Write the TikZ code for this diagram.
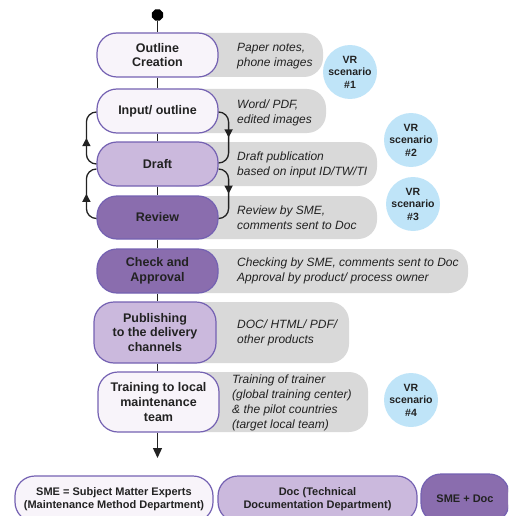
\documentclass[tikz,border=0pt]{standalone}
\usepackage{fontspec}
\setmainfont{Liberation Sans}
\usetikzlibrary{shapes.geometric,arrows.meta,decorations.markings}

\definecolor{boxlight}{HTML}{F8F4FA}
\definecolor{boxmid}{HTML}{CBB9DD}
\definecolor{boxdark}{HTML}{8A6DAE}
\definecolor{boxline}{HTML}{7461B2}
\definecolor{tabgray}{HTML}{D9D9D9}
\definecolor{vrblue}{HTML}{BFE4F8}
\definecolor{ink}{HTML}{222222}

\begin{document}
\begin{tikzpicture}[x=1pt,y=-1pt,
  stage/.style={draw=boxline, line width=1.2pt, rounded corners=20pt, align=center,
    font=\bfseries\fontsize{12.5}{14.8}\selectfont, inner sep=0pt, text=ink},
  legendbox/.style={draw=boxline, line width=1.2pt, rounded corners=20pt, align=center,
    font=\bfseries\fontsize{11}{13.3}\selectfont, inner sep=0pt, text=ink},
  note/.style={anchor=west, align=left, inner sep=0pt, text=ink,
    font=\itshape\fontsize{12}{15}\selectfont},
  tab/.style={fill=tabgray, rounded corners=19pt},
  vr/.style={circle, fill=vrblue, minimum size=54pt, inner sep=0pt, align=center,
    text=ink, font=\bfseries\fontsize{10.5}{12.5}\selectfont},
  trunk/.style={draw=ink, line width=1.3pt},
  loopar/.style={draw=ink, line width=1.3pt, rounded corners=10pt, postaction={decorate},
    decoration={markings, mark=at position 0.5 with {\arrow{Triangle[width=8pt,length=8pt]}}}}
]
\useasboundingbox (0,0) rectangle (508,516);
\clip (0,0) rectangle (508,516);

% grey tabs
\fill[tab] (157,33) rectangle (323,77);
\fill[tab] (157,89) rectangle (326,133);
\fill[tab] (157,142) rectangle (377,186);
\fill[tab] (157,196) rectangle (377,239);
\fill[tab] (157,249) rectangle (468,293);
\fill[tab] (157,302) rectangle (349,363);
\fill[tab] (157,372) rectangle (368,432);

% start dot
\node[regular polygon, regular polygon sides=8, fill=black, minimum size=12pt, inner sep=0pt] (dot) at (157.5,15) {};

% stages
\node[stage, fill=boxlight, minimum width=121pt, minimum height=44pt] (outline) at (157.5,55) {Outline\\Creation};
\node[stage, fill=boxlight, minimum width=121pt, minimum height=44pt] (inp) at (157.5,111) {Input/ outline};
\node[stage, fill=boxmid, minimum width=121pt, minimum height=44pt] (draft) at (157.5,164) {Draft};
\node[stage, fill=boxdark, minimum width=121pt, minimum height=43pt] (review) at (157.5,217.5) {Review};
\node[stage, fill=boxdark, minimum width=121pt, minimum height=44pt] (check) at (157.5,271) {Check and\\Approval};
\node[stage, fill=boxmid, minimum width=122pt, minimum height=61pt] (pub) at (155,332.5) {Publishing\\to the delivery\\channels};
\node[stage, fill=boxlight, minimum width=121pt, minimum height=60pt] (train) at (158.5,402) {Training to local\\maintenance\\team};

% notes
\node[note] (n1) at (237,56) {Paper notes,\\phone images};
\node[note] (n2) at (237,113) {Word/ PDF,\\edited images};
\node[note] (n3) at (237,165) {Draft publication\\based on input ID/TW/TI};
\node[note] (n4) at (237,218) {Review by SME,\\comments sent to Doc};
\node[note] (n5) at (237,271) {Checking by SME, comments sent to Doc\\Approval by product/ process owner};
\node[note] (n6) at (237,333) {DOC/ HTML/ PDF/\\other products};
\node[note] (n7) at (232,403) {Training of trainer\\(global training center)\\\& the pilot countries\\(target local team)};

% VR scenarios
\node[vr] (vr1) at (350,72) {VR\\scenario\\\#1};
\node[vr] (vr2) at (411,140) {VR\\scenario\\\#2};
\node[vr] (vr3) at (413,204) {VR\\scenario\\\#3};
\node[vr] (vr4) at (411,400) {VR\\scenario\\\#4};

% trunk
\draw[trunk] (dot) -- (outline);
\draw[trunk] (outline) -- (inp);
\draw[trunk] (inp) -- (draft);
\draw[trunk] (draft) -- (review);
\draw[trunk] (review) -- (check);
\draw[trunk] (check) -- (check |- pub.north);
\draw[trunk] (check |- pub.south) -- (check |- train.north);
\coordinate (end) at (157.5,458);
\draw[trunk, -{Triangle[width=9pt,length=10pt]}] (check |- train.south) -- (end);

% loops
\draw[loopar] (draft.west) -- ++(-10,0) |- ([yshift=-1pt]inp.west);
\draw[loopar] ([yshift=-1pt]inp.east) -- ++(10,0) |- ([yshift=1pt]draft.east);
\draw[loopar] ([yshift=-1pt]review.west) -- ++(-10,0) |- ([yshift=-5pt]draft.west);
\draw[loopar] ([yshift=-5pt]draft.east) -- ++(10,0) |- ([yshift=-1pt]review.east);

% legend
\node[legendbox, fill=boxlight, minimum width=198pt, minimum height=46pt] (lsme) at (114,499) {SME = Subject Matter Experts\\(Maintenance Method Department)};
\node[legendbox, fill=boxmid, minimum width=199pt, minimum height=46pt] (ldoc) at (317.5,499) {Doc (Technical\\Documentation Department)};
\node[legendbox, fill=boxdark, minimum width=88pt, minimum height=49pt] (lboth) at (465,498.5) {SME + Doc};
\end{tikzpicture}
\end{document}
